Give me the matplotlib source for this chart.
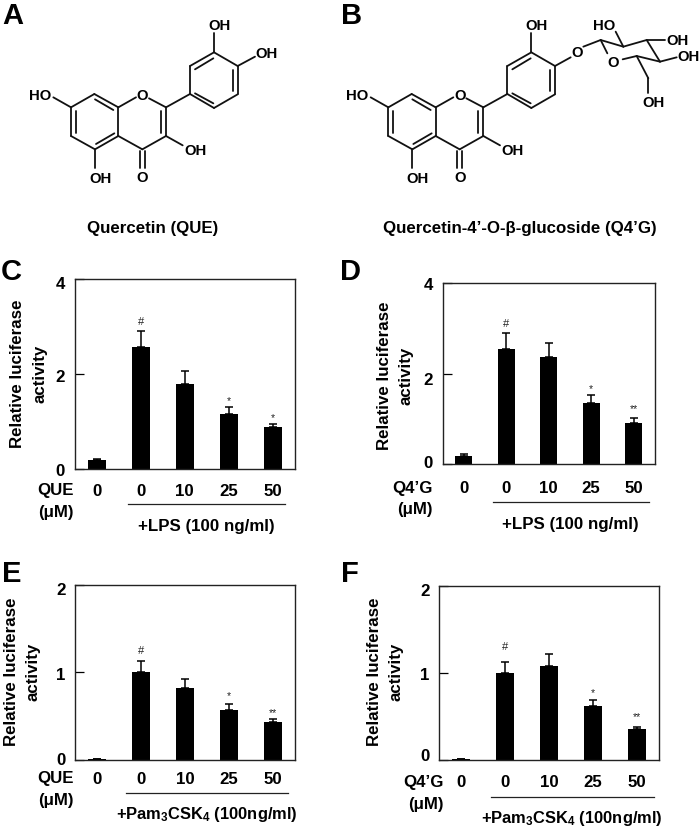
import numpy as np
import matplotlib
matplotlib.use('Agg')
import matplotlib.pyplot as plt
from matplotlib.transforms import ScaledTranslation

plt.rcParams['font.family'] = 'Liberation Sans'
plt.rcParams['font.weight'] = 'bold'
plt.rcParams['mathtext.fontset'] = 'custom'
plt.rcParams['mathtext.rm'] = 'Liberation Sans:bold'

# bar data
dose_labels = ['0', '0', '10', '25', '50']

c_means = [0.18, 2.56, 1.80, 1.165, 0.877]
c_errs = [0.035, 0.345, 0.27, 0.135, 0.07]
c_sig = ['', '#', '', '*', '*']

d_means = [0.177, 2.55, 2.36, 1.343, 0.915]
d_errs = [0.037, 0.35, 0.32, 0.187, 0.095]
d_sig = ['', '#', '', '*', '**']

e_means = [0.005, 1.0, 0.817, 0.573, 0.427]
e_errs = [0.0, 0.126, 0.103, 0.068, 0.043]
e_sig = ['', '#', '', '*', '**']

f_means = [0.005, 1.0, 1.08, 0.617, 0.349]
f_errs = [0.0, 0.123, 0.135, 0.069, 0.03]
f_sig = ['', '#', '', '*', '**']

W, H = 700, 827
fig = plt.figure(figsize=(7, 8.27), dpi=100)

# overlay in pixel coords for the drawn structures and loose labels
ov = fig.add_axes([0, 0, 1, 1])
ov.set_xlim(0, W)
ov.set_ylim(H, 0)
ov.axis('off')
ov.set_zorder(5)


def bar_panel(box, means, errs, sig, ymax, yticks, pad, sig_off, tick_shift):
    l, t, r, b = box
    ax = fig.add_axes([l / W, 1 - b / H, (r - l) / W, (b - t) / H])
    x = np.arange(5)
    ax.bar(x, means, width=0.4, color='k')
    ax.errorbar(x, means, yerr=[np.zeros(5), errs], fmt='none', ecolor='k',
                elinewidth=1.1, capsize=3.2, capthick=1.1)
    for i in range(5):
        if sig[i]:
            # asterisk glyphs sit high in their text box
            off = sig_off[i] - (0 if sig[i] == '#' else 3)
            ax.annotate(sig[i], (x[i], means[i] + errs[i]), xytext=(0, off),
                        textcoords='offset pixels', ha='center', va='center',
                        fontsize=8 if sig[i] == '#' else 7.5, fontweight='normal',
                        color='#222222')
    ax.set_xlim(-0.5, 4.5)
    ax.set_ylim(0, ymax)
    ax.set_xticks(x)
    ax.set_xticklabels(dose_labels)
    ax.set_yticks(yticks)
    ax.tick_params(axis='x', length=0, pad=pad, labelsize=12.2)
    ax.tick_params(axis='y', direction='in', length=6.2, width=0.9, pad=7, labelsize=12.2)
    for s in ax.spines.values():
        s.set_linewidth(1.0)
        s.set_color('#222222')
    for lab, dy in zip(ax.get_yticklabels(), tick_shift):
        lab.set_transform(lab.get_transform() + ScaledTranslation(0, -dy / 100, fig.dpi_scale_trans))
    return ax


bar_panel((74.7, 279, 295, 469), c_means, c_errs, c_sig, 4, [0, 2, 4], 10.6,
          [0, 9, 0, 9, 9], [1, 2, 4])
bar_panel((442.7, 283.3, 654.7, 464), d_means, d_errs, d_sig, 4, [0, 2, 4], 12.5,
          [0, 9, 0, 9, 12], [-2, 5, 1])
bar_panel((75, 585, 295, 759.7), e_means, e_errs, e_sig, 2, [0, 1, 2], 8.9,
          [0, 10, 0, 11, 9], [-1, 2, 4])
bar_panel((439, 585.7, 659, 759.7), f_means, f_errs, f_sig, 2, [0, 1, 2], 11.3,
          [0, 15, 0, 10, 13], [-5, 1, 4])


def t(x, y, s, size=12.2, ha='center', **kw):
    # va center counts the descender, nudge down to match the glyph centre
    ov.text(x, y + 1.5, s, fontsize=size, ha=ha, va='center', **kw)


# y titles
for x1, x2, y in [(15.7, 38, 374), (383, 405, 376), (10, 31.7, 672), (373, 395, 672)]:
    ov.text(x1 + 1.5, y, 'Relative luciferase', rotation=90, fontsize=12.2, ha='center', va='center')
    ov.text(x2 + 1.5, y, 'activity', rotation=90, fontsize=12.2, ha='center', va='center')

# row labels left of the dose ticks
t(74, 489, 'QUE', ha='right')
t(74, 511, '(μM)', ha='right')
t(432.7, 486.7, 'Q4’G', ha='right')
t(432.7, 508, '(μM)', ha='right')
t(73.3, 777, 'QUE', ha='right')
t(73.3, 799, '(μM)', ha='right')
t(444, 780.7, 'Q4’G', ha='right')
t(444, 803, '(μM)', ha='right')

# treatment brackets
for x0, x1, y in [(128.3, 285, 504), (492.7, 649, 501.7), (125.7, 287.7, 793), (491, 653.7, 797)]:
    ov.plot([x0, x1], [y, y], color='#222222', lw=0.9)
t(206.7, 525, '+LPS (100 ng/ml)')
t(570.7, 522.7, '+LPS (100 ng/ml)')
pam = r'+Pam$\mathrm{_3}$CSK$\mathrm{_4}$ (100ng/ml)'
t(206.7, 813, pam, size=11.9)
t(572.3, 817, pam, size=11.9)

# panel letters
for x, y, s in [(2, 14, 'A'), (341, 15, 'B'), (1, 270, 'C'), (340, 270, 'D'), (2, 572, 'E'), (341, 572, 'F')]:
    t(x, y, s, size=21, ha='left')

t(153, 227, 'Quercetin (QUE)')
t(520, 227, 'Quercetin-4’-O-β-glucoside (Q4’G)')

# flavonol skeleton, in 3x crop units
flavone_bonds = [
    (213, 322, 283, 282), (283, 282, 355, 322), (355, 322, 355, 408), (355, 408, 285, 448),
    (285, 448, 213, 408), (213, 408, 213, 322), (228, 332, 228, 398), (285, 298, 340, 330),
    (288, 432, 343, 400), (355, 322, 408, 292), (447, 295, 498, 322), (498, 322, 498, 408),
    (483, 332, 483, 398), (498, 408, 427, 448), (427, 448, 355, 408), (420, 452, 420, 505),
    (434, 452, 434, 505), (213, 322, 160, 292), (285, 448, 285, 505), (498, 408, 548, 436),
    (498, 322, 570, 282), (570, 282, 570, 198), (570, 198, 642, 157), (642, 157, 713, 198),
    (713, 198, 713, 283), (713, 283, 642, 324), (642, 324, 570, 282), (585, 208, 640, 175),
    (698, 210, 698, 272), (585, 280, 640, 310), (642, 157, 642, 100),
]
flavone_labels = [(120, 285, 'HO'), (300, 533, 'OH'), (587, 450, 'OH'), (427, 285, 'O'),
                  (427, 530, 'O'), (658, 76, 'OH')]

sugar_bonds = [
    (713, 198, 760, 172), (798, 140, 850, 120), (850, 120, 918, 140), (918, 140, 988, 120),
    (988, 120, 1028, 185), (1028, 185, 958, 168), (958, 168, 916, 178), (870, 160, 850, 120),
    (918, 140, 895, 95), (988, 120, 1043, 120), (1028, 185, 1078, 172), (958, 168, 993, 235),
    (993, 235, 993, 280),
]
sugar_labels = [(780, 157, 'O'), (886, 185, 'O'), (860, 75, 'HO'), (1080, 120, 'OH'),
                (1113, 168, 'OH'), (1008, 305, 'OH')]


def draw_mol(x0, bonds, labels):
    for x1, y1, x2, y2 in bonds:
        ov.plot([x0 + x1 / 3, x0 + x2 / 3], [y1 / 3, y2 / 3], color='#111111', lw=1.3,
                solid_capstyle='round')
    for x, y, s in labels:
        t(x0 + x / 3, y / 3 - 0.5, s, size=10.7)


draw_mol(0, flavone_bonds, flavone_labels)
draw_mol(0, [(713, 198, 765, 170)], [(800, 158, 'OH')])
draw_mol(330 - 38 / 3, flavone_bonds, flavone_labels)
draw_mol(330 - 38 / 3, sugar_bonds, sugar_labels)

plt.savefig('out.png', dpi=100)
